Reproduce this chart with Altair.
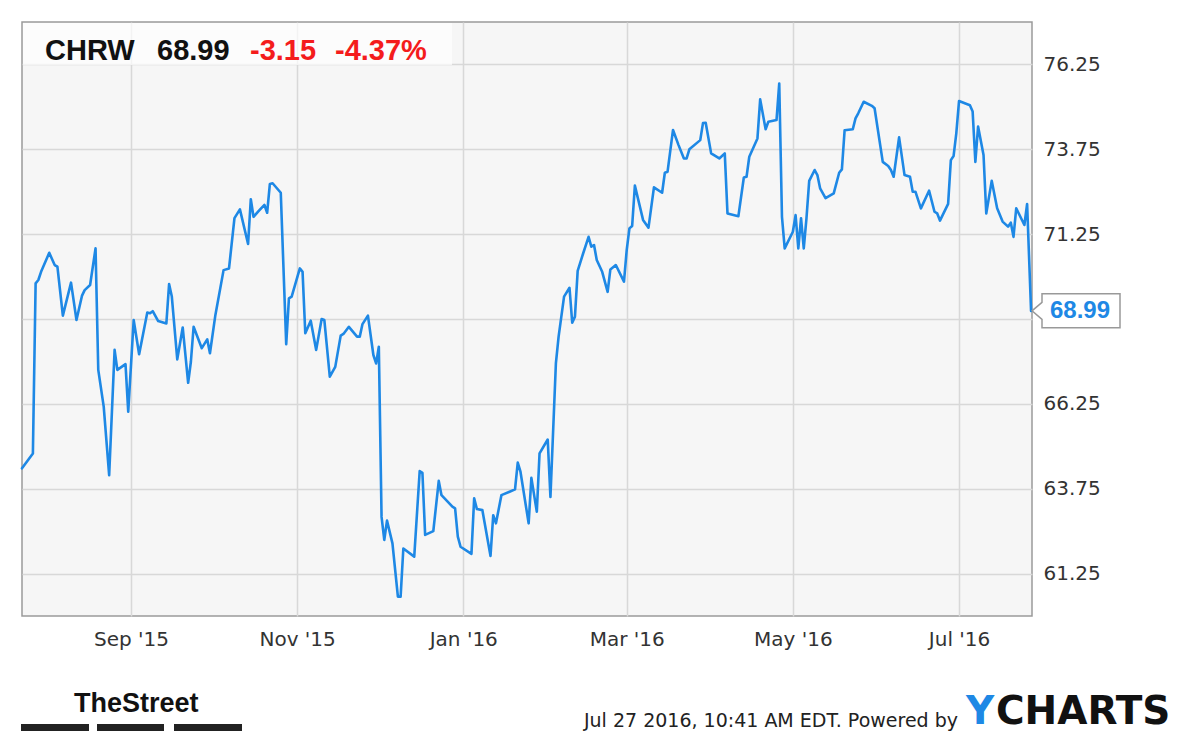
import altair as alt
import pandas as pd

# ---------------- data ----------------
ticker = "CHRW"
last_price = 68.99
change = -3.15
change_pct = -4.37
footer_text = "Jul 27 2016, 10:41 AM EDT.  Powered by"
source_logo = "TheStreet"
brand_first = "Y"
brand_rest = "CHARTS"

dates = [
    "2015-07-23", "2015-07-27", "2015-07-28", "2015-07-29", "2015-07-30", "2015-08-02",
    "2015-08-04", "2015-08-05", "2015-08-07", "2015-08-10", "2015-08-12", "2015-08-14",
    "2015-08-15", "2015-08-17", "2015-08-19", "2015-08-20", "2015-08-22", "2015-08-24",
    "2015-08-26", "2015-08-27", "2015-08-30", "2015-08-31", "2015-09-02", "2015-09-04",
    "2015-09-07", "2015-09-08", "2015-09-09", "2015-09-11", "2015-09-14", "2015-09-15",
    "2015-09-16", "2015-09-18", "2015-09-20", "2015-09-22", "2015-09-23", "2015-09-24",
    "2015-09-27", "2015-09-29", "2015-09-30", "2015-10-02", "2015-10-05", "2015-10-07",
    "2015-10-09", "2015-10-11", "2015-10-14", "2015-10-15", "2015-10-16", "2015-10-18",
    "2015-10-20", "2015-10-21", "2015-10-22", "2015-10-23", "2015-10-26", "2015-10-28",
    "2015-10-29", "2015-10-30", "2015-11-02", "2015-11-03", "2015-11-04", "2015-11-06",
    "2015-11-08", "2015-11-10", "2015-11-11", "2015-11-13", "2015-11-15", "2015-11-17",
    "2015-11-18", "2015-11-20", "2015-11-23", "2015-11-24", "2015-11-25", "2015-11-27",
    "2015-11-29", "2015-11-30", "2015-12-01", "2015-12-02", "2015-12-03", "2015-12-04",
    "2015-12-06", "2015-12-08", "2015-12-09", "2015-12-10", "2015-12-14", "2015-12-16",
    "2015-12-17", "2015-12-18", "2015-12-21", "2015-12-23", "2015-12-24", "2015-12-28",
    "2015-12-29", "2015-12-30", "2015-12-31", "2016-01-04", "2016-01-05", "2016-01-06",
    "2016-01-08", "2016-01-11", "2016-01-12", "2016-01-13", "2016-01-15", "2016-01-18",
    "2016-01-20", "2016-01-21", "2016-01-22", "2016-01-25", "2016-01-26", "2016-01-28",
    "2016-01-29", "2016-02-01", "2016-02-02", "2016-02-04", "2016-02-05", "2016-02-07",
    "2016-02-09", "2016-02-10", "2016-02-11", "2016-02-12", "2016-02-14", "2016-02-16",
    "2016-02-17", "2016-02-18", "2016-02-19", "2016-02-21", "2016-02-23", "2016-02-24",
    "2016-02-26", "2016-02-29", "2016-03-01", "2016-03-02", "2016-03-03", "2016-03-04",
    "2016-03-07", "2016-03-09", "2016-03-11", "2016-03-14", "2016-03-15", "2016-03-16",
    "2016-03-18", "2016-03-20", "2016-03-22", "2016-03-23", "2016-03-24", "2016-03-28",
    "2016-03-29", "2016-03-30", "2016-04-01", "2016-04-04", "2016-04-06", "2016-04-07",
    "2016-04-11", "2016-04-13", "2016-04-14", "2016-04-15", "2016-04-18", "2016-04-19",
    "2016-04-21", "2016-04-22", "2016-04-25", "2016-04-26", "2016-04-27", "2016-04-28",
    "2016-05-01", "2016-05-02", "2016-05-03", "2016-05-04", "2016-05-05", "2016-05-06",
    "2016-05-07", "2016-05-09", "2016-05-10", "2016-05-11", "2016-05-13", "2016-05-16",
    "2016-05-18", "2016-05-19", "2016-05-20", "2016-05-23", "2016-05-24", "2016-05-25",
    "2016-05-27", "2016-05-30", "2016-05-31", "2016-06-03", "2016-06-05", "2016-06-06",
    "2016-06-07", "2016-06-09", "2016-06-11", "2016-06-13", "2016-06-14", "2016-06-15",
    "2016-06-17", "2016-06-20", "2016-06-22", "2016-06-23", "2016-06-24", "2016-06-27",
    "2016-06-28", "2016-06-29", "2016-06-30", "2016-07-01", "2016-07-05", "2016-07-06",
    "2016-07-07", "2016-07-08", "2016-07-10", "2016-07-11", "2016-07-13", "2016-07-15",
    "2016-07-17", "2016-07-19", "2016-07-20", "2016-07-21", "2016-07-22", "2016-07-25",
    "2016-07-26", "2016-07-27T10:41:00Z",
]

prices = [
    64.35, 64.79, 69.80, 69.90, 70.14, 70.70,
    70.34, 70.29, 68.85, 69.82, 68.72, 69.43,
    69.60, 69.75, 70.83, 67.25, 66.17, 64.15,
    67.84, 67.25, 67.42, 66.02, 68.72, 67.71,
    68.94, 68.92, 68.98, 68.69, 68.62, 69.78,
    69.41, 67.56, 68.50, 66.87, 67.49, 68.52,
    67.89, 68.15, 67.74, 68.87, 70.19, 70.24,
    71.72, 71.98, 70.96, 72.28, 71.76, 71.94,
    72.11, 71.88, 72.73, 72.75, 72.47, 68.01,
    69.36, 69.41, 70.24, 70.14, 68.33, 68.70,
    67.84, 68.75, 68.72, 67.05, 67.34, 68.26,
    68.31, 68.52, 68.23, 68.23, 68.60, 68.85,
    67.69, 67.44, 67.93, 62.92, 62.24, 62.81,
    62.14, 60.57, 60.57, 61.99, 61.75, 64.27,
    64.22, 62.39, 62.50, 63.98, 63.56, 63.22,
    63.17, 62.34, 62.04, 61.83, 63.47, 63.15,
    63.12, 61.77, 62.97, 62.73, 63.56, 63.66,
    63.73, 64.52, 64.25, 62.73, 64.07, 63.07,
    64.79, 65.20, 63.51, 67.44, 68.23, 69.41,
    69.67, 68.64, 68.82, 70.17, 70.68, 71.17,
    70.88, 70.93, 70.49, 70.14, 69.55, 70.21,
    70.34, 69.85, 70.78, 71.42, 71.49, 72.68,
    71.67, 71.44, 72.63, 72.47, 73.06, 73.09,
    74.32, 73.88, 73.48, 73.48, 73.75, 74.02,
    74.52, 74.53, 73.63, 73.48, 73.63, 71.86,
    71.78, 72.92, 72.94, 73.53, 74.07, 75.22,
    74.34, 74.56, 74.61, 75.69, 71.76, 70.83,
    71.32, 71.81, 70.83, 71.72, 70.83, 71.72,
    72.82, 73.14, 72.99, 72.60, 72.31, 72.45,
    73.06, 73.16, 74.31, 74.34, 74.66, 74.81,
    75.15, 75.03, 74.96, 73.38, 73.26, 73.14,
    72.94, 74.10, 72.99, 72.94, 72.50, 72.50,
    72.01, 72.53, 71.91, 71.86, 71.65, 72.14,
    73.43, 73.55, 74.22, 75.17, 75.05, 74.86,
    73.38, 74.42, 73.58, 71.86, 72.82, 72.01,
    71.62, 71.47, 71.59, 71.17, 72.01, 71.52,
    72.14, 68.99,
]

y_ticks = [61.25, 63.75, 66.25, 68.75, 71.25, 73.75, 76.25]
x_tick_months = [(2015, 9), (2015, 11), (2016, 1), (2016, 3), (2016, 5), (2016, 7)]
y_domain = [60.0, 77.5]

# ---------------- styling ----------------
BLUE = "#1e88e5"
RED = "#f41c1c"
AXIS_FONT = "DejaVu Sans"
W, H = 1010, 594

df = pd.DataFrame({"date": dates, "price": prices})
last_df = df.tail(1)

x_scale = alt.Scale(
    type="utc",
    domain=[alt.DateTime(year=2015, month=7, date=23, utc=True),
            alt.DateTime(year=2016, month=7, date=27, hours=19, utc=True)],
    nice=False,
)
y_scale = alt.Scale(domain=y_domain, nice=False, zero=False)

x_axis = alt.Axis(
    values=[alt.DateTime(year=y, month=m, date=1, utc=True) for y, m in x_tick_months],
    labelExpr="utcFormat(datum.value, \"%b '%y\")",
    title=None, domain=False, ticks=False, tickSize=0, labelPadding=13,
    labelFont=AXIS_FONT, labelFontSize=20, labelColor="#333333",
    gridColor="#d8d8d8", gridWidth=1.5, labelOverlap=False, labelFlush=False,
)
y_axis = alt.Axis(
    orient="right", values=y_ticks,
    labelExpr="datum.value == 68.75 ? '' : format(datum.value, '.2f')",
    title=None, domain=False, ticks=False, tickSize=0, labelPadding=11,
    labelFont=AXIS_FONT, labelFontSize=20, labelColor="#333333",
    gridColor="#d8d8d8", gridWidth=1.5, labelOverlap=False,
)

X = alt.X("date:T", scale=x_scale, axis=x_axis)
Y = alt.Y("price:Q", scale=y_scale, axis=y_axis)


def one_row(val):
    return pd.DataFrame({"t": [val]})


def text_layer(txt, x, y, size, color, font="Liberation Sans", weight="normal",
               align="left", baseline="alphabetic"):
    return alt.Chart(one_row(txt)).mark_text(
        font=font, fontSize=size, fontWeight=weight, color=color,
        align=align, baseline=baseline,
    ).encode(text="t:N", x=alt.value(x), y=alt.value(y))


def rect_layer(x1, x2, y1, y2, color, opacity=1.0):
    return alt.Chart(one_row(0)).mark_rect(fill=color, opacity=opacity).encode(
        x=alt.value(x1), x2=alt.value(x2), y=alt.value(y1), y2=alt.value(y2))


# title panel (semi transparent white)
title_box = rect_layer(1, 430, 1, 43, "white", 0.7)

line = alt.Chart(df).mark_line(
    color=BLUE, strokeWidth=2.6, strokeJoin="round", strokeCap="round"
).encode(x=X, y=Y)

# price callout box with pointer
pointer_path = "M -1 -0.436 L 1 -0.436 L 1 0.436 L -1 0.436 L -1 0.218 L -1.256 0 L -1 -0.218 Z"
price_box = alt.Chart(last_df).mark_point(
    shape=pointer_path, size=6084, filled=True, fill="white", stroke="#999999",
    strokeWidth=1.5, opacity=1, fillOpacity=1,
).encode(x=alt.value(1059), y=Y)
price_text = alt.Chart(last_df).mark_text(
    font="Liberation Sans", fontSize=24, fontWeight="bold", color=BLUE,
    align="center", baseline="middle",
).encode(x=alt.value(1058), y=Y, text=alt.Text("price:Q", format=".2f"))

t1 = text_layer(ticker, 23, 38, 29, "#111111", weight="bold")
t2 = text_layer(f"{last_price:.2f}", 135, 38, 29, "#111111", weight="bold")
t3 = text_layer(f"{change:.2f}", 228, 38, 29, RED, weight="bold")
t4 = text_layer(f"{change_pct:.2f}%", 313, 38, 29, RED, weight="bold")

logo = text_layer(source_logo, 52, 690, 27, "#111111", font="Liberation Sans", weight="bold")
bar1 = rect_layer(-1, 67, 702, 709, "#222222")
bar2 = rect_layer(75, 142, 702, 709, "#222222")
bar3 = rect_layer(152, 220, 702, 709, "#222222")

footer = text_layer(footer_text, 936, 705, 19, "#222222", font=AXIS_FONT, align="right")
brand1 = text_layer(brand_first, 944, 702, 39, BLUE, font=AXIS_FONT, weight="bold")
brand2 = text_layer(brand_rest, 974, 702, 39, "#111111", font=AXIS_FONT, weight="bold")

chart = alt.layer(
    title_box, line, price_box, price_text, t1, t2, t3, t4,
    logo, bar1, bar2, bar3, footer, brand1, brand2,
).properties(
    width=W, height=H,
    padding={"left": 14, "top": 14, "right": 160, "bottom": 116},
    autosize="none",
    background="white",
).configure_view(
    fill="#f6f6f6", stroke="#9a9a9a", strokeWidth=1.5,
)

chart.save("out.html", embed_options={"renderer": "svg", "actions": False})
